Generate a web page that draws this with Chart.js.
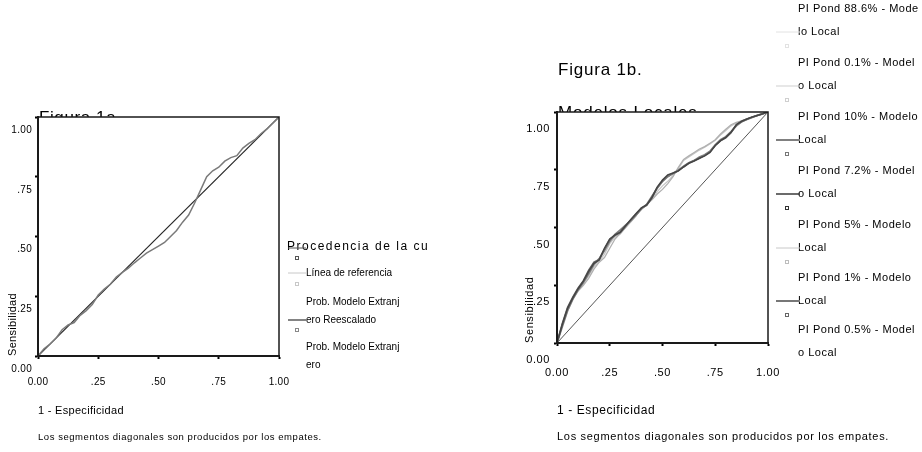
<!DOCTYPE html>
<html>
<head>
<meta charset="utf-8">
<script src="https://cdn.jsdelivr.net/npm/chart.js@4.4.1/dist/chart.umd.min.js"></script>
<style>
  html, body { margin: 0; padding: 0; background: #fff; }
  #wrap { position: relative; width: 922px; height: 452px; overflow: hidden; background: #fff; }
  #rocA { position: absolute; left: 0; top: 0; width: 500px; height: 452px; }
  #rocB { position: absolute; left: 500px; top: 0; width: 422px; height: 452px; }
</style>
</head>
<body>
<div id="wrap">
  <canvas id="rocA" width="500" height="452"></canvas>
  <canvas id="rocB" width="422" height="452"></canvas>
</div>
<script>
// ---- shared axis values ----
const tickValues = [0, 0.25, 0.5, 0.75, 1];
const tickLabels = ['0.00', '.25', '.50', '.75', '1.00'];
const diagX = [0, 1];
const diagY = [0, 1];

// 1 - specificity grid shared by all curves
const fprGrid = [0, 0.025, 0.05, 0.075, 0.1, 0.125, 0.15, 0.175, 0.2, 0.225, 0.25, 0.275, 0.3, 0.325, 0.35, 0.375, 0.4, 0.425, 0.45, 0.475, 0.5, 0.525, 0.55, 0.575, 0.6, 0.625, 0.65, 0.675, 0.7, 0.725, 0.75, 0.775, 0.8, 0.825, 0.85, 0.875, 0.9, 0.925, 0.95, 0.975, 1];

// ---- Figura 1a: foreign model ----
const tprExtranjero = [0, .03, .05, .075, .11, .13, .14, .17, .19, .215, .255, .28, .30, .33, .35, .368, .39, .41, .43, .445, .46, .475, .5, .525, .56, .59, .64, .695, .75, .775, .79, .815, .83, .838, .87, .89, .905, .93, .95, .975, 1];

// ---- Figura 1b: local models ----
const tprPond886 = [0, .08, .15, .196, .236, .27, .312, .348, .362, .41, .45, .468, .48, .508, .535, .56, .585, .598, .63, .674, .705, .726, .736, .746, .762, .778, .79, .80, .81, .826, .855, .876, .89, .912, .944, .96, .97, .978, .985, .992, 1];
const tprPond01  = [0, .078, .145, .192, .23, .258, .29, .33, .355, .385, .43, .458, .472, .50, .528, .552, .583, .598, .622, .655, .68, .70, .725, .755, .79, .805, .82, .835, .848, .862, .878, .9, .92, .94, .952, .962, .97, .978, .985, .992, 1];
const tprPond10  = [0, .07, .14, .19, .23, .262, .30, .34, .365, .40, .44, .47, .49, .51, .53, .555, .58, .60, .635, .67, .70, .72, .735, .748, .765, .78, .79, .805, .815, .83, .858, .88, .893, .915, .94, .958, .968, .977, .985, .992, 1];
const tprPond72  = [0, .08, .15, .195, .235, .268, .31, .345, .36, .41, .45, .468, .48, .508, .535, .56, .585, .598, .63, .675, .705, .728, .736, .745, .762, .778, .788, .80, .81, .825, .855, .876, .89, .912, .945, .96, .97, .978, .985, .992, 1];
const tprPond5   = [0, .075, .14, .19, .225, .25, .28, .32, .35, .37, .41, .45, .475, .50, .525, .55, .585, .60, .62, .645, .665, .69, .72, .76, .795, .81, .825, .84, .85, .865, .88, .905, .925, .945, .955, .962, .97, .978, .985, .992, 1];
const tprPond1   = [0, .085, .155, .2, .238, .27, .315, .35, .362, .405, .448, .465, .478, .505, .532, .558, .583, .596, .628, .672, .70, .722, .733, .745, .764, .78, .79, .80, .812, .828, .855, .875, .888, .91, .943, .958, .968, .978, .986, .993, 1];

// ---- text ----
const titleA = 'Figura 1a.';
const titleB = ['Figura 1b.', 'Modelos Locales'];
const xTitle = '1 - Especificidad';
const yTitle = 'Sensibilidad';
const footnote = 'Los segmentos diagonales son producidos por los empates.';
const legendTitleA = 'Procedencia de la cu';
const legendTextA = [['Línea de referencia'], ['Prob. Modelo Extranj', 'ero Reescalado'], ['Prob. Modelo Extranj', 'ero']];
const legendTextB = [
  ['PI Pond 88.6% - Mode', 'lo Local'],
  ['PI Pond 0.1% - Model', 'o Local'],
  ['PI Pond 10% - Modelo', 'Local'],
  ['PI Pond 7.2% - Model', 'o Local'],
  ['PI Pond 5% - Modelo', 'Local'],
  ['PI Pond 1% - Modelo', 'Local'],
  ['PI Pond 0.5% - Model', 'o Local']
];

const FONT = "'Liberation Sans Narrow', 'Liberation Sans', Arial, sans-serif";
const pts = (xs, ys) => xs.map((x, i) => ({ x, y: ys[i] }));

// Titles, legend block, footnote and the plot frame
const decor = {
  id: 'decor',
  beforeDraw(chart, args, o) {
    const ctx = chart.ctx;
    ctx.save();
    ctx.fillStyle = '#fff';
    ctx.fillRect(0, 0, chart.width, chart.height);
    ctx.fillStyle = '#000';
    ctx.textBaseline = 'alphabetic';
    ctx.textAlign = 'left';
    o.titles.forEach(t => {
      ctx.font = t.font;
      ctx.letterSpacing = t.spacing;
      ctx.fillText(t.text, t.x, t.y);
    });
    ctx.restore();
    ctx.letterSpacing = o.axisSpacing;
  },
  beforeDatasetsDraw(chart) {
    const { ctx, chartArea: a } = chart;
    ctx.save();
    ctx.fillStyle = '#fff';
    ctx.fillRect(a.left, a.top, a.right - a.left, a.bottom - a.top);
    ctx.restore();
  },
  afterDatasetsDraw(chart) {
    const { ctx, chartArea: a } = chart;
    ctx.save();
    ctx.strokeStyle = '#1a1a1a';
    ctx.lineWidth = 1.5;
    ctx.strokeRect(a.left, a.top, a.right - a.left, a.bottom - a.top);
    ctx.lineWidth = 2;
    ctx.beginPath();
    ctx.moveTo(a.left, a.top - 1);
    ctx.lineTo(a.left, a.bottom);
    ctx.lineTo(a.right + 1, a.bottom);
    ctx.stroke();
    ctx.restore();
  },
  afterDraw(chart, args, o) {
    const ctx = chart.ctx;
    ctx.save();
    ctx.textAlign = 'left';
    ctx.textBaseline = 'middle';
    ctx.fillStyle = '#000';
    // legend heading
    if (o.legendTitle) {
      ctx.font = o.legendTitle.font;
      ctx.letterSpacing = o.legendTitle.spacing;
      ctx.fillText(o.legendTitle.text, o.legendTitle.x, o.legendTitle.y);
    }
    // legend text
    ctx.font = o.legend.font;
    ctx.letterSpacing = o.legend.spacing;
    o.legend.items.forEach(it => {
      it.text.forEach((s, k) => ctx.fillText(s, o.legend.x, it.y + k * o.legend.lineGap));
    });
    // legend symbols
    ctx.letterSpacing = '0px';
    o.legend.symbols.forEach(s => {
      ctx.strokeStyle = s.color;
      ctx.lineWidth = s.width;
      ctx.beginPath();
      ctx.moveTo(s.x0, s.y);
      ctx.lineTo(s.x1, s.y);
      ctx.stroke();
      ctx.lineWidth = 1;
      ctx.strokeStyle = s.marker;
      ctx.strokeRect(s.mx - 1.5, s.my - 1.5, 3, 3);
    });
    // footnote
    ctx.font = o.note.font;
    ctx.letterSpacing = o.note.spacing;
    ctx.fillText(o.note.text, o.note.x, o.note.y);
    ctx.restore();
  }
};

function axes(cfg) {
  const tickFont = { family: FONT, size: cfg.tickSize };
  return {
    x: {
      type: 'linear', min: 0, max: 1,
      afterFit: s => { s.height = cfg.xHeight; },
      afterBuildTicks: s => { s.ticks = tickValues.map(v => ({ value: v })); },
      ticks: { callback: (v, i) => tickLabels[i], font: tickFont, color: '#000', padding: cfg.xPad, maxRotation: 0, autoSkip: false },
      grid: { drawOnChartArea: false, tickLength: 3, tickWidth: 2, color: '#000' },
      border: { display: true, color: '#000', width: 2 },
      title: { display: true, text: xTitle, align: 'start', color: '#000', font: { family: FONT, size: cfg.xTitleSize }, padding: { top: 0, bottom: cfg.xTitleBottom } }
    },
    y: {
      type: 'linear', min: 0, max: 1,
      afterFit: s => { s.width = cfg.yWidth; },
      afterBuildTicks: s => { s.ticks = tickValues.map(v => ({ value: v })); },
      ticks: { callback: (v, i) => tickLabels[i], font: tickFont, color: '#000', padding: cfg.yPad, labelOffset: cfg.labelOffset, autoSkip: false },
      grid: { drawOnChartArea: false, tickLength: 3, tickWidth: 2, color: '#000' },
      border: { display: true, color: '#000', width: 2 },
      title: { display: true, text: yTitle, align: 'start', color: '#000', font: { family: FONT, size: 11 }, padding: { top: cfg.yTitleTop, bottom: 0 } }
    }
  };
}

const common = {
  responsive: false,
  animation: false,
  devicePixelRatio: 1,
  elements: { point: { radius: 0, hoverRadius: 0 }, line: { tension: 0, fill: false } },
  events: []
};

// ---------- Figura 1a ----------
new Chart(document.getElementById('rocA'), {
  type: 'line',
  data: {
    datasets: [
      { label: 'Prob. Modelo Extranjero', data: pts(fprGrid, tprExtranjero), borderColor: '#7a7a7a', borderWidth: 1.5, order: 0 },
      { label: 'Línea de referencia', data: pts(diagX, diagY), borderColor: '#262626', borderWidth: 1.2, order: 1 }
    ]
  },
  options: Object.assign({}, common, {
    layout: { padding: { top: 117, right: 221, left: 0, bottom: 0 } },
    scales: axes({ tickSize: 10, xHeight: 96, xPad: 17, xTitleSize: 11, xTitleBottom: 34, yWidth: 38, yPad: 3, labelOffset: 13, yTitleTop: 6 }),
    plugins: {
      legend: { display: false }, tooltip: { enabled: false },
      decor: {
        axisSpacing: '0.3px',
        titles: [{ text: titleA, x: 39, y: 123, font: `17px ${FONT}`, spacing: '0.6px' }],
        legendTitle: { text: legendTitleA, x: 287, y: 247, font: `12px ${FONT}`, spacing: '1.5px' },
        legend: {
          x: 306, lineGap: 18, font: `10px ${FONT}`, spacing: '0px',
          items: [
            { text: legendTextA[0], y: 273 },
            { text: legendTextA[1], y: 302 },
            { text: legendTextA[2], y: 347 }
          ],
          symbols: [
            { x0: 288, x1: 306, y: 248, color: '#555', width: 1, marker: '#555', mx: 297, my: 258 },
            { x0: 288, x1: 306, y: 273, color: '#c8c8c8', width: 1, marker: '#c8c8c8', mx: 297, my: 284 },
            { x0: 288, x1: 306, y: 320, color: '#333', width: 1.2, marker: '#888', mx: 297, my: 330 }
          ]
        },
        note: { text: footnote, x: 38, y: 437, font: `9.5px ${FONT}`, spacing: '0.55px' }
      }
    }
  }),
  plugins: [decor]
});

// ---------- Figura 1b ----------
const legendY = [9, 63, 117, 171, 225, 278, 330];
new Chart(document.getElementById('rocB'), {
  type: 'line',
  data: {
    datasets: [
      { label: 'PI Pond 7.2% - Modelo Local', data: pts(fprGrid, tprPond72), borderColor: '#454545', borderWidth: 1.6, order: 0 },
      { label: 'PI Pond 10% - Modelo Local', data: pts(fprGrid, tprPond10), borderColor: '#7d7d7d', borderWidth: 1.8, order: 1 },
      { label: 'PI Pond 1% - Modelo Local', data: pts(fprGrid, tprPond1), borderColor: '#6a6a6a', borderWidth: 1.5, order: 2 },
      { label: 'PI Pond 5% - Modelo Local', data: pts(fprGrid, tprPond5), borderColor: '#b0b0b0', borderWidth: 1.3, order: 3 },
      { label: 'PI Pond 0.1% - Modelo Local', data: pts(fprGrid, tprPond01), borderColor: '#c6c6c6', borderWidth: 1.2, order: 4 },
      { label: 'PI Pond 88.6% - Modelo Local', data: pts(fprGrid, tprPond886), borderColor: '#dcdcdc', borderWidth: 1.2, order: 5 },
      { label: 'Línea de referencia', data: pts(diagX, diagY), borderColor: '#555', borderWidth: 1, order: 6 }
    ]
  },
  options: Object.assign({}, common, {
    layout: { padding: { top: 112, right: 154, left: 0, bottom: 0 } },
    scales: axes({ tickSize: 11, xHeight: 109, xPad: 20, xTitleSize: 12, xTitleBottom: 34, yWidth: 57, yPad: 4, labelOffset: 17, yTitleTop: 23 }),
    plugins: {
      legend: { display: false }, tooltip: { enabled: false },
      decor: {
        axisSpacing: '0.6px',
        titles: [
          { text: titleB[0], x: 58, y: 75, font: `17px ${FONT}`, spacing: '0.8px' },
          { text: titleB[1], x: 58, y: 118, font: `17px ${FONT}`, spacing: '0.8px' }
        ],
        legendTitle: null,
        legend: {
          x: 298, lineGap: 23, font: `11px ${FONT}`, spacing: '0.5px',
          items: legendTextB.map((t, i) => ({ text: t, y: legendY[i] })),
          symbols: [
            { color: '#e2e2e2', width: 1, marker: '#e2e2e2' },
            { color: '#cfcfcf', width: 1, marker: '#cfcfcf' },
            { color: '#808080', width: 2, marker: '#777' },
            { color: '#3a3a3a', width: 1.5, marker: '#333' },
            { color: '#c8c8c8', width: 1, marker: '#bdbdbd' },
            { color: '#777', width: 2, marker: '#666' }
          ].map((s, i) => Object.assign(s, { x0: 276, x1: 300, y: legendY[i] + 23, mx: 287, my: legendY[i] + 37 }))
        },
        note: { text: footnote, x: 57, y: 437, font: `11px ${FONT}`, spacing: '0.7px' }
      }
    }
  }),
  plugins: [decor]
});
</script>
</body>
</html>
